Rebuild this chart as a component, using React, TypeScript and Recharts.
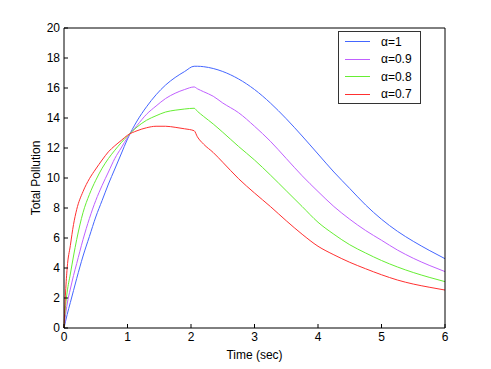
import { Line, LineChart, XAxis, YAxis } from "recharts";

// time grid (sec), shared by all series
const time = [
  0, 0.025, 0.05, 0.1, 0.15, 0.2, 0.3, 0.4, 0.5, 0.6, 0.7, 0.8, 0.9, 1.0, 1.15, 1.3, 1.45, 1.6, 1.75,
  1.9, 2.05, 2.1, 2.2, 2.35, 2.5, 2.75, 3.0, 3.25, 3.5, 3.75, 4.0, 4.25, 4.5, 4.75, 5.0, 5.25, 5.5,
  5.75, 6.0,
];

const alpha1 = [
  0, 0.45, 0.9, 1.7, 2.5, 3.3, 4.8, 6.1, 7.4, 8.5, 9.6, 10.6, 11.6, 12.6, 13.8, 14.75, 15.55, 16.2,
  16.7, 17.1, 17.45, 17.45, 17.42, 17.3, 17.1, 16.6, 15.9, 15.0, 13.95, 12.8, 11.6, 10.4, 9.3,
  8.2, 7.25, 6.45, 5.78, 5.18, 4.62,
];
const alpha09 = [
  0, 0.9, 1.6, 2.6, 3.5, 4.3, 5.9, 7.3, 8.5, 9.5, 10.4, 11.3, 12.0, 12.7, 13.5, 14.25, 14.8, 15.3,
  15.65, 15.9, 16.07, 15.95, 15.75, 15.45, 15.0, 14.35, 13.45, 12.45, 11.3, 10.15, 9.1, 8.1, 7.25,
  6.5, 5.85, 5.2, 4.65, 4.18, 3.76,
];
const alpha08 = [
  0, 1.5, 2.4, 3.6, 4.8, 5.9, 7.7, 8.9, 9.85, 10.65, 11.3, 11.85, 12.35, 12.8, 13.4, 13.85, 14.15,
  14.4, 14.52, 14.6, 14.65, 14.45, 14.1, 13.6, 13.05, 12.1, 11.2, 10.2, 9.15, 8.1, 7.05, 6.25, 5.55,
  5.0, 4.5, 4.07, 3.7, 3.38, 3.09,
];
const alpha07 = [
  0, 2.4, 4.0, 5.5, 6.9, 7.9, 9.1, 9.95, 10.6, 11.2, 11.75, 12.15, 12.5, 12.85, 13.15, 13.35, 13.45,
  13.45, 13.38, 13.28, 13.15, 12.75, 12.25, 11.7, 11.05, 9.95, 9.0, 8.1, 7.15, 6.25, 5.45, 4.88,
  4.38, 3.95, 3.55, 3.2, 2.93, 2.72, 2.53,
];

const xTicks = [0, 1, 2, 3, 4, 5, 6];
const yTicks = [0, 2, 4, 6, 8, 10, 12, 14, 16, 18, 20];

const series = [
  { key: "a1", name: "α=1", values: alpha1, color: "#4466ff" },
  { key: "a09", name: "α=0.9", values: alpha09, color: "#c060ff" },
  { key: "a08", name: "α=0.8", values: alpha08, color: "#66ee33" },
  { key: "a07", name: "α=0.7", values: alpha07, color: "#ff3030" },
];

const data = time.map((t, i) => {
  const row: Record<string, number> = { t };
  series.forEach((s) => (row[s.key] = s.values[i]));
  return row;
});

const font = "'Liberation Sans', Arial, Helvetica, sans-serif";
const tickStyle = { fill: "#000", fontSize: 12, fontFamily: font };

// legend drawn as an overlay so it doesn't take space from the plot
function LegendBox() {
  return (
    <div
      style={{
        position: "absolute",
        left: 338,
        top: 31,
        width: 83,
        height: 73,
        border: "1px solid #333",
        background: "#fff",
        boxSizing: "border-box",
        paddingTop: 1,
        fontFamily: font,
        fontSize: 12,
      }}
    >
      {series.map((s) => (
        <div key={s.key} style={{ display: "flex", alignItems: "center", height: 17.5 }}>
          <div style={{ width: 25, height: 1, background: s.color, marginLeft: 6, marginRight: 11 }} />
          <span>{s.name}</span>
        </div>
      ))}
    </div>
  );
}

export default function App() {
  return (
    <div style={{ position: "absolute", left: 0, top: 0, width: 491, height: 369, background: "#fff" }}>
      <LineChart width={491} height={369} data={data} margin={{ top: 27, right: 45, left: 0, bottom: 0 }}>
        <XAxis
          dataKey="t"
          type="number"
          domain={[0, 6]}
          ticks={xTicks}
          height={41}
          tickSize={-4}
          tickMargin={8}
          stroke="#000"
          tick={tickStyle}
          label={{ value: "Time (sec)", position: "insideBottom", offset: 10, fill: "#000", fontSize: 12, fontFamily: font }}
        />
        <XAxis
          xAxisId="top"
          orientation="top"
          type="number"
          domain={[0, 6]}
          ticks={xTicks}
          height={1}
          tickSize={-4}
          tick={false}
          stroke="#000"
        />
        <YAxis
          type="number"
          domain={[0, 20]}
          ticks={yTicks}
          width={64}
          tickSize={-4}
          tickMargin={8}
          stroke="#000"
          tick={tickStyle}
          label={{
            value: "Total Pollution",
            angle: -90,
            position: "insideLeft",
            offset: 36,
            fill: "#000",
            fontSize: 12,
            fontFamily: font,
            style: { textAnchor: "middle" },
          }}
        />
        <YAxis
          yAxisId="right"
          orientation="right"
          type="number"
          domain={[0, 20]}
          ticks={yTicks}
          width={1}
          tickSize={-4}
          tick={false}
          stroke="#000"
        />
        {series.map((s) => (
          <Line
            key={s.key}
            dataKey={s.key}
            name={s.name}
            type="monotone"
            stroke={s.color}
            strokeWidth={1}
            dot={false}
            isAnimationActive={false}
          />
        ))}
      </LineChart>
      <LegendBox />
    </div>
  );
}
